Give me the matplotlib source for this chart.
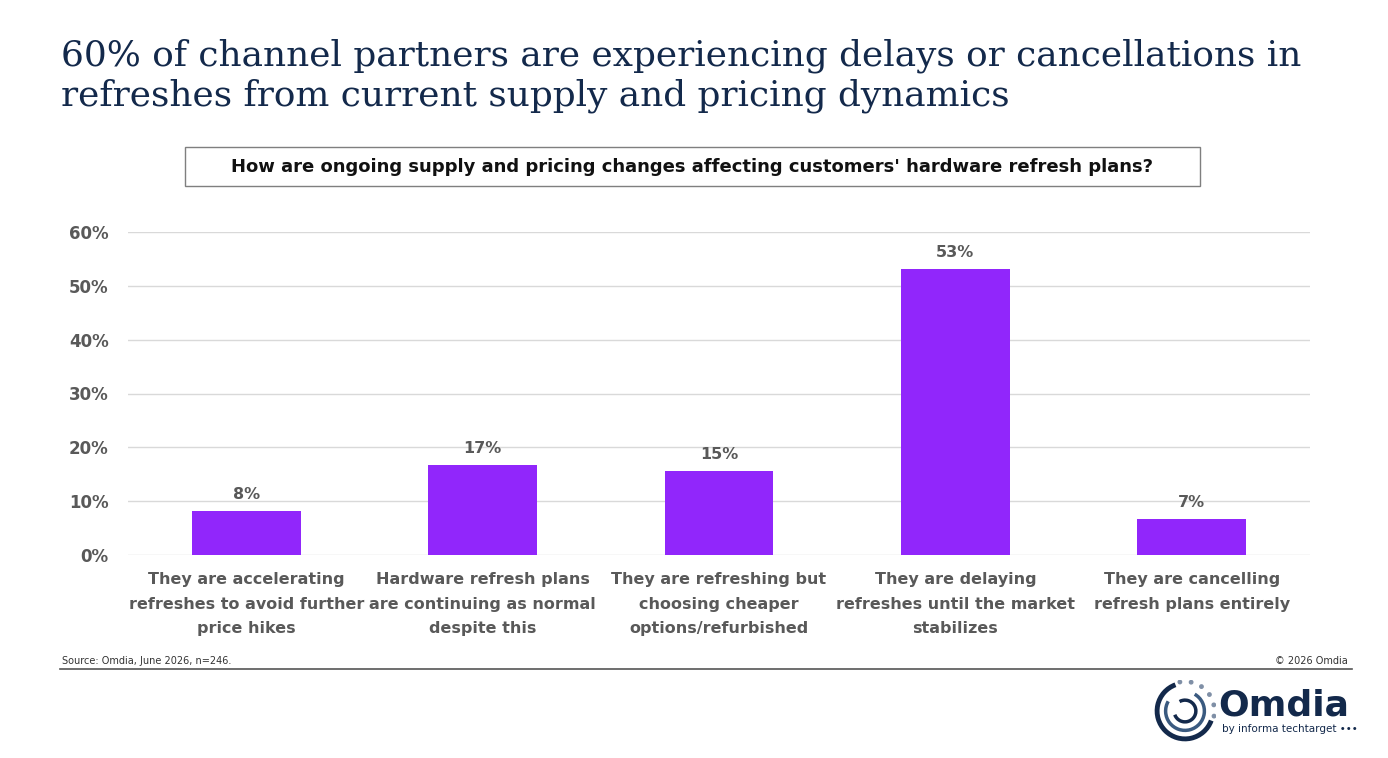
import matplotlib.pyplot as plt
from matplotlib.patches import Rectangle, Arc, Circle
import numpy as np

# data
categories = [
    "They are accelerating\nrefreshes to avoid further\nprice hikes",
    "Hardware refresh plans\nare continuing as normal\ndespite this",
    "They are refreshing but\nchoosing cheaper\noptions/refurbished",
    "They are delaying\nrefreshes until the market\nstabilizes",
    "They are cancelling\nrefresh plans entirely",
]
values = [8.2, 16.7, 15.6, 53.1, 6.7]
value_labels = ["8%", "17%", "15%", "53%", "7%"]
yticks = [0, 10, 20, 30, 40, 50, 60]

navy = "#13294b"
grey = "#595959"
purple = "#9126fb"

W, H = 1388, 758
fig = plt.figure(figsize=(W / 100, H / 100), dpi=100)
fig.patch.set_facecolor("white")

def fx(px):
    return px / W

def fy(py):
    return 1 - py / H

# title
fig.text(fx(61), fy(76), "60% of channel partners are experiencing delays or cancellations in\nrefreshes from current supply and pricing dynamics",
         fontsize=25.8, family="DejaVu Serif", color=navy, va="center", ha="left", linespacing=1.22)

# question box
fig.patches.append(Rectangle((fx(185), fy(186)), fx(1200) - fx(185), fy(147) - fy(186),
                             transform=fig.transFigure, fill=False, edgecolor="#7f7f7f", lw=1.0))
fig.text(fx(692), fy(166.5), "How are ongoing supply and pricing changes affecting customers' hardware refresh plans?",
         fontsize=13, fontweight="bold", color="#111111", ha="center", va="center")

# chart
ax = fig.add_axes([fx(128), fy(555), fx(1310) - fx(128), fy(232) - fy(555)])
x = np.arange(len(categories))
bars = ax.bar(x, values, width=0.46, color=purple, zorder=3)
for xi, v, lab in zip(x, values, value_labels):
    ax.text(xi, v + 1.7, lab, ha="center", va="bottom", fontsize=11.5, fontweight="bold", color=grey)

ax.set_xlim(-0.5, len(categories) - 0.5)
ax.set_ylim(0, 60)
ax.set_yticks(yticks)
ax.set_yticklabels([f"{t}%" for t in yticks], fontsize=12, fontweight="bold", color=grey)
ax.set_xticks(x)
ax.set_xticklabels(categories, fontsize=11.5, fontweight="bold", color=grey, linespacing=1.77, va="top")
ax.tick_params(axis="both", length=0)
ax.tick_params(axis="y", pad=14)
ax.tick_params(axis="x", pad=12.5)
ax.grid(axis="y", color="#d9d9d9", lw=1, zorder=0)
for s in ax.spines.values():
    s.set_visible(False)

# footer
fig.text(fx(62), fy(661), "Source: Omdia, June 2026, n=246.", fontsize=7, color="#333333", ha="left", va="center")
fig.text(fx(1348), fy(661), "\u00a9 2026 Omdia", fontsize=7, color="#333333", ha="right", va="center")
fig.lines.append(plt.Line2D([fx(60), fx(1352)], [fy(669), fy(669)], transform=fig.transFigure, color="#555555", lw=1.2))

# logo
lax = fig.add_axes([fx(1150), fy(742), fx(1220) - fx(1150), fy(680) - fy(742)])
lax.set_xlim(-1, 1)
lax.set_ylim(-1, 1)
lax.set_aspect("equal")
lax.axis("off")
lax.add_patch(Arc((0, 0), 1.8, 1.8, theta1=110, theta2=340, color=navy, lw=3.5))
lax.add_patch(Arc((0, 0), 1.25, 1.25, theta1=150, theta2=420, color="#3a5a80", lw=2.5))
lax.add_patch(Arc((0, 0), 0.7, 0.7, theta1=200, theta2=480, color=navy, lw=2.5))
for ang in np.linspace(-10, 100, 6):
    r = 0.95
    lax.add_patch(Circle((r * np.cos(np.radians(ang)), r * np.sin(np.radians(ang))), 0.055, color="#7f8fa6"))
fig.text(fx(1218), fy(706), "Omdia", fontsize=26, fontweight="bold", color=navy, ha="left", va="center")
fig.text(fx(1222), fy(729), "by informa techtarget \u2022\u2022\u2022", fontsize=7.5, color=navy, ha="left", va="center")

fig.savefig("out.png", dpi=100)
